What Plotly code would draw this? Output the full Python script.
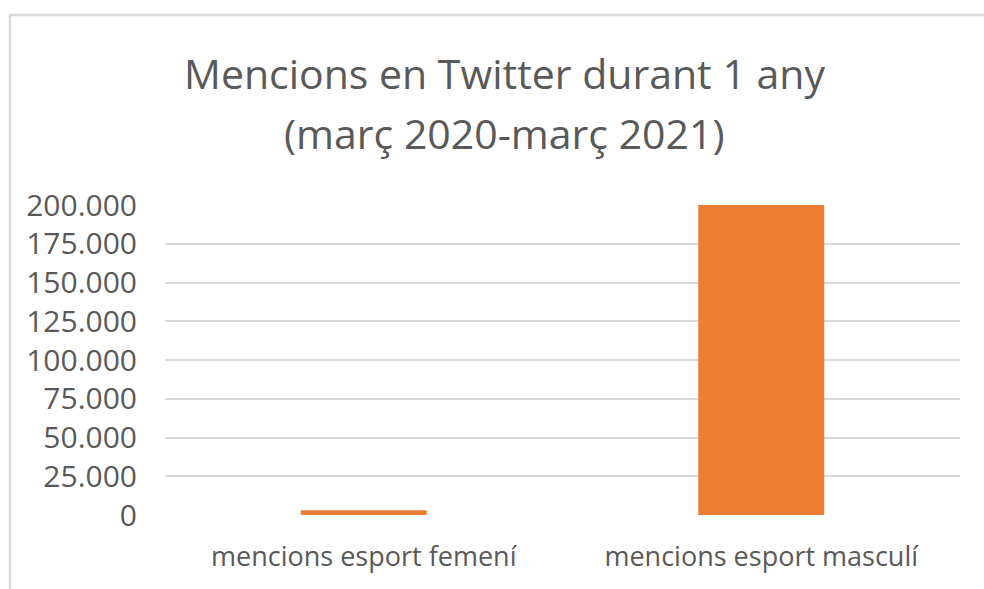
import plotly.graph_objects as go

categories = ["mencions esport femení", "mencions esport masculí"]
values = [3000, 200000]
tick_vals = [0, 25000, 50000, 75000, 100000, 125000, 150000, 175000, 200000]
title_lines = ["Mencions en Twitter durant 1 any", "(març 2020-març 2021)"]

W, H = 984, 589
L, R, T, B = 165, 24, 205, 74
pw = W - L - R
ph = H - T - B


def py(ypix):
    return (H - B - ypix) / ph


def px(xpix):
    return (xpix - L) / pw


fig = go.Figure(go.Bar(x=categories, y=values, marker=dict(color="#ED7D31", line=dict(width=0)), width=0.317))

fig.update_layout(
    width=W, height=H,
    margin=dict(l=L, r=R, t=T, b=B),
    paper_bgcolor="white", plot_bgcolor="white",
    separators=",.",
    showlegend=False,
    font=dict(family="Open Sans", color="#595959"),
    annotations=[
        dict(text=title_lines[0], xref="paper", yref="paper", x=px(504), y=py(73),
             xanchor="center", yanchor="middle", showarrow=False,
             font=dict(family="Open Sans", size=41, color="#595959")),
        dict(text=title_lines[1], xref="paper", yref="paper", x=px(504), y=py(133),
             xanchor="center", yanchor="middle", showarrow=False,
             font=dict(family="Open Sans", size=41, color="#595959")),
    ],
    shapes=[dict(type="rect", xref="paper", yref="paper",
                 x0=px(10), x1=px(W + 10),
                 y0=py(H + 10), y1=py(15),
                 line=dict(color="#d9d9d9", width=2.5), fillcolor="rgba(0,0,0,0)", layer="below")],
)
fig.update_yaxes(range=[0, 200000], tickvals=tick_vals, tickformat=",d",
                 showgrid=True, gridcolor="#d9d9d9", gridwidth=1.5, zeroline=False,
                 showline=False, ticks="outside", ticklen=21, tickcolor="rgba(0,0,0,0)",
                 tickfont=dict(family="Open Sans", size=30, color="#595959"))
fig.update_xaxes(showgrid=False, zeroline=False, showline=False,
                 ticks="outside", ticklen=18, tickcolor="rgba(0,0,0,0)",
                 tickfont=dict(family="Open Sans", size=27, color="#595959"))

fig.write_html("out.html", config={"displayModeBar": False},
               post_script="document.body.style.margin='0';document.body.style.overflow='hidden';")
